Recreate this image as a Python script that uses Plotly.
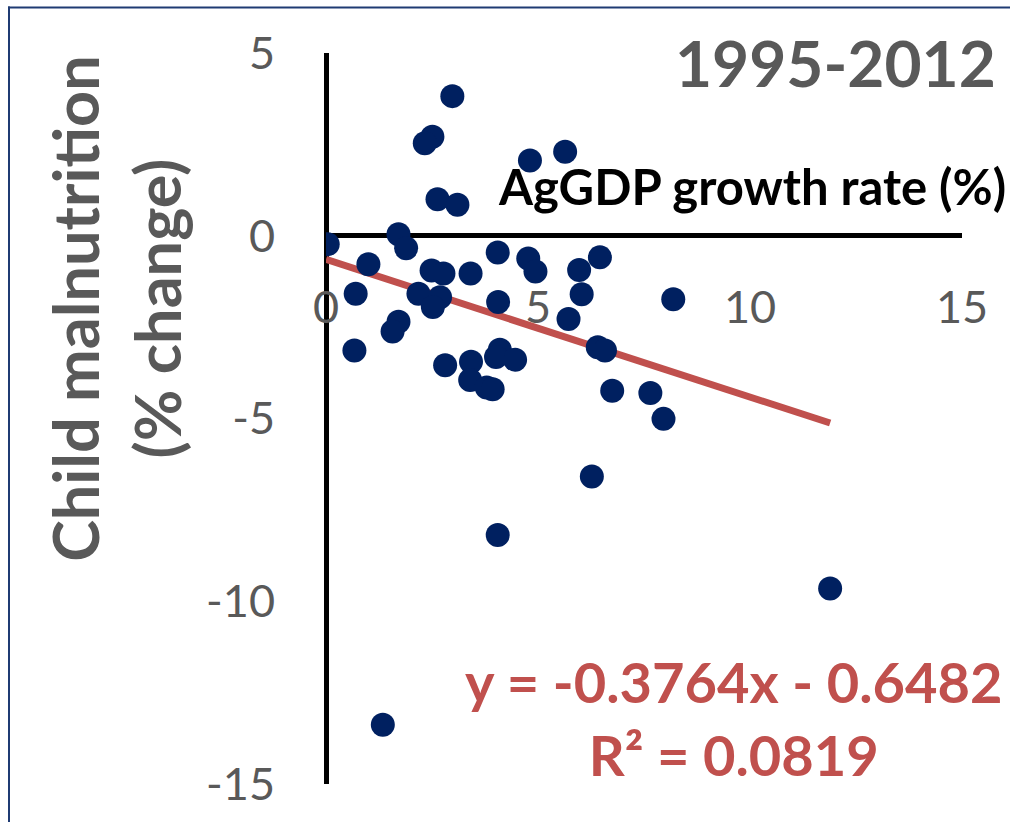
import plotly.graph_objects as go

# ---- data ----
agdp_growth = [2.98, 2.51, 2.33, 4.81, 5.64, 2.63, 3.10, 0.04, 1.71, 1.89,
               1.00, 4.05, 4.77, 4.94, 5.97, 6.46, 3.41, 2.49, 2.77, 0.70,
               2.18, 2.69, 2.52, 4.06, 6.03, 5.72, 1.71, 1.57, 0.67, 2.81,
               3.42, 3.40, 4.10, 4.01, 4.46, 3.79, 3.93, 6.41, 6.58, 6.75,
               7.65, 8.19, 7.96, 6.27, 4.05, 11.89, 1.34]
malnutrition_change = [3.82, 2.71, 2.53, 2.06, 2.30, 1.00, 0.85, -0.23, 0.04, -0.34,
                       -0.78, -0.46, -0.62, -0.98, -0.94, -0.59, -1.03, -0.95, -1.03, -1.59,
                       -1.59, -1.68, -1.95, -1.81, -1.60, -2.28, -2.35, -2.62, -3.14, -3.54,
                       -3.45, -3.95, -3.12, -3.32, -3.39, -4.15, -4.20, -3.05, -3.14, -4.24,
                       -4.30, -1.74, -5.01, -6.59, -8.19, -9.65, -13.38]
slope = -0.3764
intercept = -0.6482
r_squared = 0.0819
x_ticks = [0, 5, 10, 15]
y_ticks = [-15, -10, -5, 0, 5]
period_label = "1995-2012"
x_label = "AgGDP growth rate (%)"
y_label = "Child malnutrition<br>(% change)"

trend_x = [0, max(agdp_growth)]
trend_y = [slope * v + intercept for v in trend_x]

W, H = 1010, 822
L, R, T, B = 326, 48, 53, 29
PW, PH = W - L - R, H - T - B


def px(x):
    return (x - L) / PW


def py(y):
    return (H - B - y) / PH


FONT = "Lato"
GREY = "#595959"
RED = "#C0504D"
NAVY = "#002060"
FRAME = "#1F3B73"

fig = go.Figure()
fig.add_trace(go.Scatter(
    x=trend_x, y=trend_y, mode="lines",
    line=dict(color=RED, width=7), hoverinfo="skip", showlegend=False))
fig.add_trace(go.Scatter(
    x=agdp_growth, y=malnutrition_change, mode="markers",
    marker=dict(color=NAVY, size=24, line=dict(width=0)), showlegend=False))

fig.update_layout(
    width=W, height=H,
    margin=dict(l=L, r=R, t=T, b=B, pad=0),
    paper_bgcolor="white", plot_bgcolor="white",
    font=dict(family=FONT, color=GREY),
    xaxis=dict(range=[0, 15], tickvals=x_ticks, ticktext=[str(v) for v in x_ticks],
               showgrid=False,
               zeroline=True, zerolinecolor="black", zerolinewidth=5,
               showline=False, ticks="", anchor="free", position=py(280),
               tickfont=dict(size=45, color=GREY, family=FONT)),
    yaxis=dict(range=[-15, 5], tickvals=y_ticks, ticktext=[str(v) for v in y_ticks],
               showgrid=False,
               zeroline=True, zerolinecolor="black", zerolinewidth=5,
               showline=False, ticks="", ticklabelstandoff=50,
               tickfont=dict(size=45, color=GREY, family=FONT)),
    annotations=[
        dict(text=f"<b>{period_label}</b>", xref="paper", yref="paper",
             x=px(835), y=py(63), xanchor="center", yanchor="middle",
             showarrow=False, font=dict(size=64, color=GREY, family=FONT)),
        dict(text=f"<b>{x_label}</b>", xref="paper", yref="paper",
             x=px(752), y=py(188), xanchor="center", yanchor="middle",
             showarrow=False, font=dict(size=49, color="black", family=FONT)),
        dict(text=f"<b>y = {slope:.4f}x - {abs(intercept):.4f}<br>R² = {r_squared:.4f}</b>",
             xref="paper", yref="paper", x=px(733), y=py(726),
             xanchor="center", yanchor="middle", align="center",
             showarrow=False, font=dict(size=56, color=RED, family=FONT)),
        dict(text=f"<b>{y_label}</b>", xref="paper", yref="paper",
             x=px(116), y=py(312), xanchor="center", yanchor="middle",
             textangle=-90, align="center",
             showarrow=False, font=dict(size=63, color=GREY, family=FONT)),
    ],
    shapes=[
        dict(type="line", xref="paper", yref="paper",
             x0=px(8), y0=py(7), x1=px(1200), y1=py(7),
             line=dict(color=FRAME, width=2), layer="above"),
        dict(type="line", xref="paper", yref="paper",
             x0=px(9), y0=py(6), x1=px(9), y1=py(1000),
             line=dict(color=FRAME, width=2), layer="above"),
    ],
)

fig.write_html("out.html")
